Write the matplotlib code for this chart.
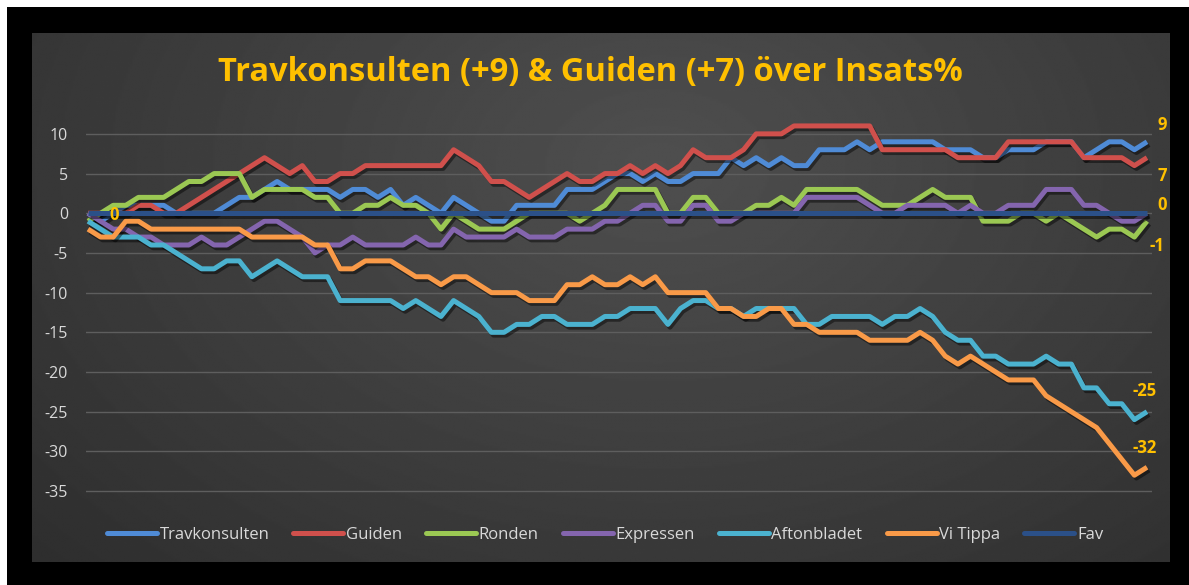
import numpy as np
import matplotlib
matplotlib.use("Agg")
import matplotlib.pyplot as plt
import matplotlib.patheffects as pe
from matplotlib.patches import Rectangle
from matplotlib.lines import Line2D

# ---------------- data ----------------
travkonsulten = [0, -1, 0, 1, 1, 1, 1, 0, 0, 0,
                 0, 1, 2, 2, 3, 4,
                 3, 3, 3, 3,
                 2, 3, 3, 2, 3,
                 1, 2, 1, 0,
                 2, 1, 0, -1, -1,
                 1, 1, 1, 1,
                 3, 3, 3,
                 4, 5, 5, 4, 5, 4, 4,
                 5, 5, 5,
                 7, 6, 7, 6, 7, 6,
                 6, 8, 8, 8, 9, 8,
                 9, 9, 9, 9, 9,
                 8, 8, 8,
                 7, 7,
                 8, 8, 8,
                 9, 9, 9,
                 7, 8, 9, 9, 8, 9]

guiden = [0, 0, 0, 0, 1, 1, 0, 0,
          1, 2, 3, 4, 5, 6, 7,
          6, 5, 6, 4, 4, 5, 5,
          6, 6, 6, 6, 6, 6, 6,
          8, 7, 6, 4, 4, 3, 2,
          3, 4, 5, 4, 4, 5, 5,
          6, 5, 6, 5, 6, 8,
          7, 7, 7, 8,
          10, 10, 10,
          11, 11, 11, 11, 11, 11, 11,
          8, 8, 8, 8, 8, 8,
          7, 7, 7, 7,
          9, 9, 9, 9, 9, 9,
          7, 7, 7, 7,
          6, 7]

ronden = [-1, 0, 1, 1, 2, 2, 2,
          3, 4, 4, 5, 5, 5, 2,
          3, 3, 3, 3, 2, 2, 0, 0,
          1, 1, 2, 1, 1, 0,
          -2, 0, -1, -2, -2, -2, -1,
          0, 0, 0, 0, -1, 0,
          1, 3, 3, 3, 3,
          0, 0, 2, 2, 0, 0, 0,
          1, 1, 2, 1,
          3, 3, 3, 3, 3,
          2, 1, 1, 1,
          2, 3, 2, 2, 2,
          -1, -1, -1,
          0, 0, -1, 0, -1,
          -2, -3, -2, -2, -3, -1]

expressen = [0, -1, -2, -2, -3, -3, -4, -4, -4,
             -3, -4, -4, -3, -2, -1, -1,
             -2, -3, -5, -4, -4, -3,
             -4, -4, -4, -4, -3, -4, -4,
             -2, -3, -3, -3, -3, -2, -3, -3, -3,
             -2, -2, -2, -1, -1, 0,
             1, 1, -1, -1, 1, 1, -1, -1,
             0, 0, 0, 0, 0,
             2, 2, 2, 2, 2, 1,
             0, 0, 1, 1, 1, 1, 0,
             1, 0, 0, 1, 1, 1,
             3, 3, 3,
             1, 1, 0, -1, -1, 0]

aftonbladet = [-1, -2, -3, -3, -3, -4, -4,
               -5, -6, -7, -7, -6, -6, -8,
               -7, -6, -7, -8, -8, -8,
               -11, -11, -11, -11, -11,
               -12, -11, -12, -13, -11, -12, -13,
               -15, -15, -14, -14, -13, -13,
               -14, -14, -14, -13, -13,
               -12, -12, -12, -14, -12, -11, -11,
               -12, -12, -13, -12, -12, -12, -12,
               -14, -14, -13, -13, -13, -13,
               -14, -13, -13, -12, -13,
               -15, -16, -16, -18, -18,
               -19, -19, -19, -18, -19, -19,
               -22, -22, -24, -24, -26, -25]

vi_tippa = [-2, -3, -3, -1, -1, -2, -2,
            -2, -2, -2, -2, -2, -2, -3,
            -3, -3, -3, -3, -4, -4, -7, -7,
            -6, -6, -6, -7, -8, -8, -9,
            -8, -8, -9, -10, -10, -10,
            -11, -11, -11, -9, -9,
            -8, -9, -9, -8, -9, -8,
            -10, -10, -10, -10, -12, -12,
            -13, -13, -12, -12, -14, -14,
            -15, -15, -15, -15, -16, -16, -16, -16,
            -15, -16, -18, -19, -18, -19, -20,
            -21, -21, -21, -23, -24, -25,
            -26, -27, -29, -31, -33, -32]

fav = [0, 0, 0, 0, 0, 0, 0, 0, 0, 0, 0, 0, 0, 0, 0, 0, 0,
       0, 0, 0, 0, 0, 0, 0, 0, 0, 0, 0, 0, 0, 0, 0, 0, 0,
       0, 0, 0, 0, 0, 0, 0, 0, 0, 0, 0, 0, 0, 0, 0, 0, 0,
       0, 0, 0, 0, 0, 0, 0, 0, 0, 0, 0, 0, 0, 0, 0, 0, 0,
       0, 0, 0, 0, 0, 0, 0, 0, 0, 0, 0, 0, 0, 0, 0, 0, 0]

series_names = ["Travkonsulten", "Guiden", "Ronden", "Expressen",
                "Aftonbladet", "Vi Tippa", "Fav"]
yticks = [10, 5, 0, -5, -10, -15, -20, -25, -30, -35]
title = "Travkonsulten (+9) & Guiden (+7) över Insats%"

series = [travkonsulten, guiden, ronden, expressen, aftonbladet, vi_tippa, fav]
assert all(len(s) == len(fav) for s in series)
colors = ["#4F8BD6", "#D0504C", "#9BC853", "#8465AE", "#4BB2CF", "#F99A48", "#2B5088"]

# end-of-line data labels: (series index, text, pixel offset)
end_labels = [(0, "9", (15, 17)), (1, "7", (15, -18)), (6, "0", (15, 8)),
              (2, "-1", (10, -25)), (4, "-25", (-2, 21)), (5, "-32", (-2, 19))]

# ---------------- figure ----------------
W, H = 1189, 585
plt.rcParams['font.family'] = ['Open Sans', 'DejaVu Sans']
fig = plt.figure(figsize=(W / 100, H / 100), dpi=100, facecolor="black")

fig.patches.append(Rectangle((0, 1 - 7 / H), 1, 7 / H, transform=fig.transFigure,
                             facecolor="white", edgecolor="none", zorder=0))
fig.patches.append(Rectangle((0, 0), 7 / W, 1, transform=fig.transFigure,
                             facecolor="white", edgecolor="none", zorder=0))

# chart area with gradient
bg = fig.add_axes([32 / W, 1 - 562 / H, (1170 - 32) / W, (562 - 33) / H])
gy, gx = np.mgrid[0:1:300j, 0:1:600j]
r = np.sqrt(((gx - 0.55) / 0.75) ** 2 + ((gy - 0.25) / 1.1) ** 2)
gray = 0.31 - 0.13 * np.clip(r, 0, 1)
bg.imshow(gray, extent=[0, 1, 0, 1], aspect="auto", cmap="gray", vmin=0, vmax=1,
          interpolation="bilinear")
bg.set_axis_off()

ax = fig.add_axes([86 / W, 1 - 503 / H, (1152 - 86) / W, (503 - 118) / H])
ax.set_facecolor("none")
x = np.arange(len(fav))
ax.set_xlim(-2 / 12.607, len(fav) - 1 + 5 / 12.607)
ax.set_ylim(-36.5, 12.0)
ax.set_yticks(yticks)
ax.set_yticklabels([str(t) for t in yticks])
ax.set_xticks([])
ax.tick_params(axis="y", length=0, pad=13, labelsize=11.5, labelcolor="#D9D9D9")
for sp in ax.spines.values():
    sp.set_visible(False)
ax.yaxis.grid(True, color="#5E5E5E", linewidth=1.0)
ax.set_axisbelow(True)

shadow = [pe.SimpleLineShadow(offset=(1.5, -2.0), shadow_color="black", alpha=0.45),
          pe.Normal()]
for name, s, c in zip(series_names, series, colors):
    ax.plot(x, s, color=c, linewidth=3.6, solid_joinstyle="round",
            solid_capstyle="butt", path_effects=shadow, label=name)

label_style = dict(color="#FFC000", fontsize=12, fontweight="bold",
                   ha="center", va="center", textcoords="offset pixels")
for idx, txt, off in end_labels:
    ax.annotate(txt, xy=(x[-1], series[idx][-1]), xytext=off, **label_style)
ax.annotate("0", xy=(x[0], fav[0]), xytext=(26, -2), **label_style)

fig.text(590 / W, 1 - 72 / H, title, ha="center", va="center", color="#FFC000",
         fontsize=23.5, fontweight="bold")

handles = [Line2D([0], [0], color=c, linewidth=3.6, solid_capstyle="round")
           for c in colors]
leg = fig.legend(handles, series_names, loc="center", ncol=7, frameon=False,
                 bbox_to_anchor=(605 / W, 1 - 535 / H), fontsize=12,
                 handlelength=3.0, handletextpad=0.15, columnspacing=1.45,
                 labelcolor="#D9D9D9")

fig.savefig("out.png", dpi=100, facecolor="black")
